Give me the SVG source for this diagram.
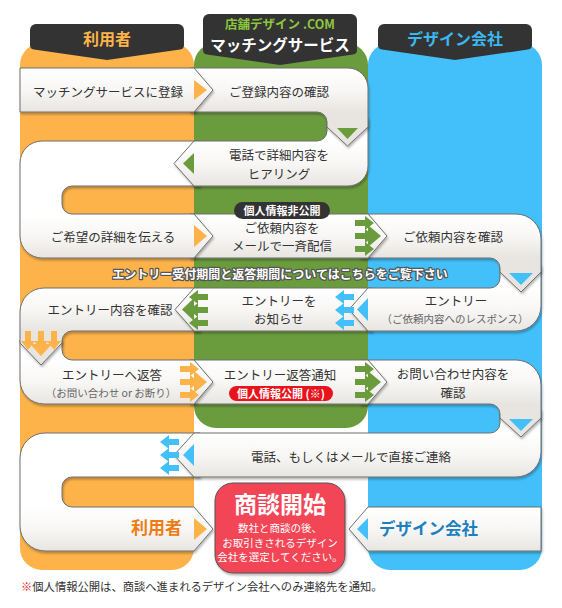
<svg xmlns="http://www.w3.org/2000/svg" width="562" height="608" viewBox="0 0 562 608">
<style>
text{font-family:"Noto Sans CJK JP","Noto Sans",sans-serif;}
.box{stroke:#6e6e6e;stroke-width:1;filter:url(#sh);}
.t{font-size:12.5px;fill:#333;text-anchor:middle;}
.s{font-size:10.5px;fill:#666;}
.tab{fill:#333;}
.tt{font-weight:bold;text-anchor:middle;}
.og{fill:#fdb34a;}
.gr{fill:#6a9c3e;}
.bl{fill:#43c0fa;}
.badge{font-size:11px;font-weight:bold;fill:#fff;text-anchor:middle;}
</style>
<defs>
<filter id="sh" x="-10%" y="-20%" width="120%" height="150%">
<feDropShadow dx="1" dy="2" stdDeviation="1.3" flood-color="#000" flood-opacity="0.28"/>
</filter>
<linearGradient id="g1" gradientUnits="userSpaceOnUse" x1="0" y1="68" x2="0" y2="112"><stop offset="0" stop-color="#fff"/><stop offset="0.5" stop-color="#f8f7f5"/><stop offset="1" stop-color="#e8e5e1"/></linearGradient>
<linearGradient id="g2" gradientUnits="userSpaceOnUse" x1="0" y1="141" x2="0" y2="186"><stop offset="0" stop-color="#fff"/><stop offset="0.5" stop-color="#f8f7f5"/><stop offset="1" stop-color="#e8e5e1"/></linearGradient>
<linearGradient id="g3" gradientUnits="userSpaceOnUse" x1="0" y1="214" x2="0" y2="258"><stop offset="0" stop-color="#fff"/><stop offset="0.5" stop-color="#f8f7f5"/><stop offset="1" stop-color="#e8e5e1"/></linearGradient>
<linearGradient id="g4" gradientUnits="userSpaceOnUse" x1="0" y1="288" x2="0" y2="331"><stop offset="0" stop-color="#fff"/><stop offset="0.5" stop-color="#f8f7f5"/><stop offset="1" stop-color="#e8e5e1"/></linearGradient>
<linearGradient id="g5" gradientUnits="userSpaceOnUse" x1="0" y1="360" x2="0" y2="404"><stop offset="0" stop-color="#fff"/><stop offset="0.5" stop-color="#f8f7f5"/><stop offset="1" stop-color="#e8e5e1"/></linearGradient>
<linearGradient id="g6" gradientUnits="userSpaceOnUse" x1="0" y1="433" x2="0" y2="477"><stop offset="0" stop-color="#fff"/><stop offset="0.5" stop-color="#f8f7f5"/><stop offset="1" stop-color="#e8e5e1"/></linearGradient>
<linearGradient id="g7" gradientUnits="userSpaceOnUse" x1="0" y1="507" x2="0" y2="551"><stop offset="0" stop-color="#fff"/><stop offset="0.5" stop-color="#f8f7f5"/><stop offset="1" stop-color="#e8e5e1"/></linearGradient>
<path id="ar" d="M0,-3 H10 V-7 L19,0 L10,7 V3 H0 Z"/>
</defs>

<g id="columns">
<rect x="20" y="43" width="174" height="527" rx="22" class="og"/>
<rect x="194" y="43" width="174" height="385" rx="22" class="gr"/>
<rect x="368" y="43" width="174" height="527" rx="22" class="bl"/>
</g>

<g id="tab-user">
<path class="tab" d="M36,24 H178 A6,6 0 0 1 184,30 V45 Q184,49 180,49.5 L107,60 L34,49.5 Q30,49 30,45 V30 A6,6 0 0 1 36,24 Z"/>
<text x="107" y="45" class="tt" style="font-size:16px;fill:#fdb34a">利用者</text>
</g>
<g id="tab-matching">
<path class="tab" d="M209,14 H351 A6,6 0 0 1 357,20 V50 Q357,54 353,54.5 L280,65 L207,54.5 Q203,54 203,50 V20 A6,6 0 0 1 209,14 Z"/>
<text class="tt"><tspan x="280" y="28.5" style="font-size:12.5px;fill:#8cc63f">店舗デザイン<tspan dx="3">.COM</tspan></tspan><tspan x="280" y="50.5" style="font-size:15.5px;fill:#fff">マッチングサービス</tspan></text>
</g>
<g id="tab-design">
<path class="tab" d="M384,24 H526 A6,6 0 0 1 532,30 V45 Q532,49 528,49.5 L455,60 L382,49.5 Q378,49 378,45 V30 A6,6 0 0 1 384,24 Z"/>
<text x="455" y="44.5" class="tt" style="font-size:16px;fill:#3bb8f0">デザイン会社</text>
</g>

<g id="n-user-final">
<path class="box" fill="url(#g7)" d="M200,433 H45 A25,25 0 0 0 20,458 V526 A25,25 0 0 0 45,551 H194 L213,529 L194,507 H72 A10,10 0 0 1 62,497 V487 A10,10 0 0 1 72,477 H200 Z"/>
<text x="182" y="534" style="font-size:17px;font-weight:bold;fill:#ee7b14;text-anchor:end">利用者</text>
</g>
<g id="n-direct-contact">
<path class="box" fill="url(#g6)" d="M194,433 H490 A10,10 0 0 0 500,423 V410 H541 V452 A25,25 0 0 1 516,477 H194 L174,455 Z"/>
<text x="351" y="461.5" class="t">電話、もしくはメールで直接ご連絡</text>
</g>
<g id="n-inquiry-confirm">
<path class="box" fill="url(#g5)" d="M360,360 H516 A25,25 0 0 1 541,385 V418 L521,437 L500,418 V414 A10,10 0 0 0 490,404 H360 Z"/>
<text class="t"><tspan x="453" y="379">お問い合わせ内容を</tspan><tspan x="453" y="397.5">確認</tspan></text>
</g>
<g id="n-reply-notice">
<path class="box" fill="url(#g5)" d="M190,360 H368 L387,382 L368,404 H190 Z"/>
<text x="280" y="379.5" class="t">エントリー返答通知</text>
<rect x="229" y="386" width="104" height="15" rx="7.5" fill="#e8141c"/>
<text x="281" y="397.5" class="badge">個人情報公開 (※)</text>
</g>
<g id="n-entry-reply">
<path class="box" fill="url(#g5)" d="M20,340 H62 V350 A10,10 0 0 0 72,360 H194 L213,382 L194,404 H44 A24,24 0 0 1 20,380 Z"/>
<text class="t"><tspan x="112" y="380">エントリーへ返答</tspan><tspan x="111" y="396.5" class="s">（お問い合わせ or お断り）</tspan></text>
</g>
<g id="n-entry-check">
<path class="box" fill="url(#g4)" d="M200,288 H44 A24,24 0 0 0 20,312 V343 L41,365 L62,343 V341 A10,10 0 0 1 72,331 H200 Z"/>
<text x="110" y="314.5" class="t">エントリー内容を確認</text>
</g>
<g id="n-entry-notify">
<path class="box" fill="url(#g4)" d="M194,288 H372 V331 H194 L175,309.5 Z"/>
<text class="t"><tspan x="279" y="305.5">エントリーを</tspan><tspan x="279" y="324">お知らせ</tspan></text>
</g>
<g id="n-entry">
<path class="box" fill="url(#g4)" d="M368,288 H490 A10,10 0 0 0 500,278 V265 H541 V306 A25,25 0 0 1 516,331 H368 L349,309.5 Z"/>
<text class="t"><tspan x="456" y="306">エントリー</tspan><tspan x="455" y="322.5" class="s">（ご依頼内容へのレスポンス）</tspan></text>
</g>
<g id="n-request-confirm">
<path class="box" fill="url(#g3)" d="M360,214 H516 A25,25 0 0 1 541,239 V272 L521,292 L500,272 V268 A10,10 0 0 0 490,258 H360 Z"/>
<text x="453" y="241.5" class="t">ご依頼内容を確認</text>
</g>
<g id="n-broadcast">
<path class="box" fill="url(#g3)" d="M190,214 H368 L387,236 L368,258 H190 Z"/>
<text class="t"><tspan x="282" y="232.5">ご依頼内容を</tspan><tspan x="282" y="251">メールで一斉配信</tspan></text>
<rect x="234" y="202" width="96" height="17" rx="8.5" fill="#333"/>
<text x="282" y="214.5" class="badge">個人情報非公開</text>
</g>
<g id="n-tell-details">
<path class="box" fill="url(#g3)" d="M200,141 H42 A22,22 0 0 0 20,163 V236 A22,22 0 0 0 42,258 H194 L213,236 L194,214 H72 A10,10 0 0 1 62,204 V196 A10,10 0 0 1 72,186 H200 Z"/>
<text x="113" y="241.5" class="t">ご希望の詳細を伝える</text>
</g>
<g id="n-hearing">
<path class="box" fill="url(#g2)" d="M194,141 H317 A10,10 0 0 0 327,131 V118 H368 V166 A20,20 0 0 1 348,186 H194 L174,163.5 Z"/>
<text class="t"><tspan x="279" y="160">電話で詳細内容を</tspan><tspan x="279" y="178.5">ヒアリング</tspan></text>
</g>
<g id="n-reg-confirm">
<path class="box" fill="url(#g1)" d="M190,68 H348 A20,20 0 0 1 368,88 V127 L347.5,146 L327,127 V122 A10,10 0 0 0 317,112 H190 Z"/>
<text x="279" y="96.5" class="t">ご登録内容の確認</text>
</g>
<g id="n-register">
<path class="box" fill="url(#g1)" d="M20,68 H194 L213,90 L194,112 H20 Z"/>
<text x="108" y="96.5" class="t">マッチングサービスに登録</text>
</g>
<g id="n-design-final">
<path class="box" fill="url(#g7)" d="M541,507 V551 H368 L349,529 L368,507 Z"/>
<text x="379" y="535" style="font-size:16.5px;font-weight:bold;fill:#1a80bf">デザイン会社</text>
</g>
<g id="n-start">
<rect x="215" y="483" width="130" height="90" rx="18" fill="#f24457" stroke="#555" stroke-width="1" filter="url(#sh)"/>
<text style="fill:#fff;text-anchor:middle"><tspan x="280" y="513" style="font-size:23px;font-weight:bold">商談開始</tspan><tspan x="280" y="532" style="font-size:10.5px">数社と商談の後、</tspan><tspan x="280" y="546.5" style="font-size:10.5px">お取引きされるデザイン</tspan><tspan x="280" y="561" style="font-size:10.5px">会社を選定してください。</tspan></text>
</g>

<g id="connectors">
<polygon class="og" points="194,80 207,90 194,100"/>
<polygon class="gr" points="337,128 358,128 347.5,139"/>
<polygon class="gr" points="183,163.5 194,153 194,174"/>
<polygon class="og" points="194,225 207,236 194,247"/>
<polygon class="gr" points="368,225 381,236 368,247"/>
<use href="#ar" class="gr" transform="translate(355,223)"/>
<use href="#ar" class="gr" transform="translate(355,236)"/>
<use href="#ar" class="gr" transform="translate(355,249)"/>
<polygon class="bl" points="509,273 533,273 521,285"/>
<polygon class="gr" points="182,309.5 194,298 194,321"/>
<use href="#ar" class="gr" transform="translate(208,297) scale(-1,1)"/>
<use href="#ar" class="gr" transform="translate(208,310) scale(-1,1)"/>
<use href="#ar" class="gr" transform="translate(208,323) scale(-1,1)"/>
<polygon class="bl" points="357,309.5 368,298 368,321"/>
<use href="#ar" class="bl" transform="translate(354,297) scale(-1,1)"/>
<use href="#ar" class="bl" transform="translate(354,310) scale(-1,1)"/>
<use href="#ar" class="bl" transform="translate(354,323) scale(-1,1)"/>
<polygon class="og" points="30,344 52,344 41,356"/>
<use href="#ar" class="og" transform="translate(28,331) rotate(90)"/>
<use href="#ar" class="og" transform="translate(41,331) rotate(90)"/>
<use href="#ar" class="og" transform="translate(54,331) rotate(90)"/>
<polygon class="og" points="194,371 207,382 194,393"/>
<use href="#ar" class="og" transform="translate(180,369)"/>
<use href="#ar" class="og" transform="translate(180,382)"/>
<use href="#ar" class="og" transform="translate(180,395)"/>
<polygon class="gr" points="368,371 381,382 368,393"/>
<use href="#ar" class="gr" transform="translate(355,369)"/>
<use href="#ar" class="gr" transform="translate(355,382)"/>
<use href="#ar" class="gr" transform="translate(355,395)"/>
<polygon class="bl" points="509,419 533,419 521,431"/>
<polygon class="bl" points="183,455 194,444 194,466"/>
<use href="#ar" class="bl" transform="translate(179,442) scale(-1,1)"/>
<use href="#ar" class="bl" transform="translate(179,455) scale(-1,1)"/>
<use href="#ar" class="bl" transform="translate(179,468) scale(-1,1)"/>
<polygon class="og" points="194,518 207,529 194,540"/>
<polygon class="bl" points="357,529 368,518 368,540"/>
</g>

<text x="280" y="278.5" style="font-size:12px;font-weight:bold;fill:#fff;stroke:#555;stroke-width:2.5;paint-order:stroke;stroke-linejoin:round;text-anchor:middle">エントリー受付期間と返答期間についてはこちらをご覧下さい</text>
<text x="21" y="591" style="font-size:11.3px;fill:#333"><tspan fill="#e8141c">※</tspan>個人情報公開は、商談へ進まれるデザイン会社へのみ連絡先を通知。</text>
</svg>
